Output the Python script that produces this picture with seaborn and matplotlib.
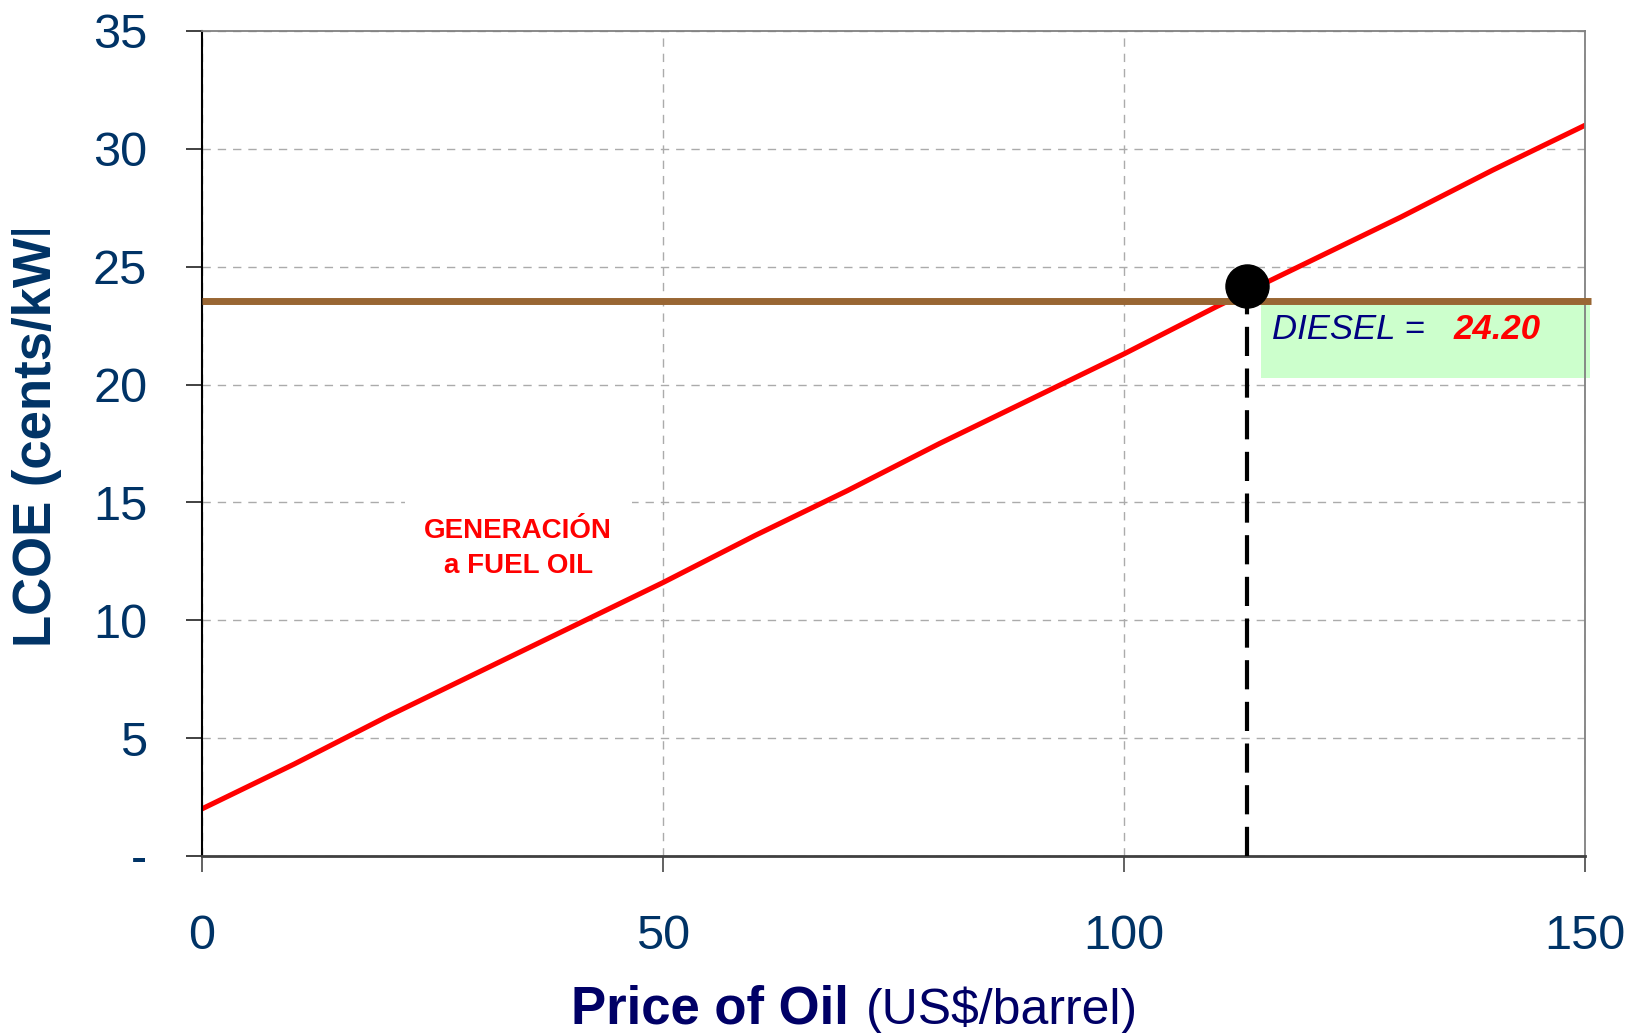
import matplotlib
matplotlib.use("Agg")
import matplotlib.pyplot as plt
import pandas as pd
import seaborn as sns
from matplotlib.patches import Rectangle
from matplotlib.transforms import Bbox, TransformedBbox

# Levelized cost of fuel-oil generation versus crude price
oil_price = [0, 10, 20, 30, 40, 50, 60, 70, 80, 90, 100, 110, 120, 130, 140, 150]
lcoe_fuel_oil = [2.0, 3.9, 5.9, 7.8, 9.7, 11.6, 13.6, 15.5, 17.5, 19.4,
                 21.3, 23.3, 25.2, 27.1, 29.1, 31.0]

# Diesel reference level and the break-even point
diesel_lcoe_line = 23.55
breakeven_price = 113.3
breakeven_lcoe = 24.20

x_ticks = [0, 50, 100, 150]
x_tick_labels = ["0", "50", "100", "150"]
y_ticks = [0, 5, 10, 15, 20, 25, 30, 35]
y_tick_labels = ["-", "5", "10", "15", "20", "25", "30", "35"]

W, H = 1638, 1033
sns.set_theme(style="white")
plt.rcParams["font.family"] = ["Liberation Sans", "DejaVu Sans"]

fig = plt.figure(figsize=(W / 100, H / 100), dpi=100)
ax = fig.add_axes([202 / W, 177 / H, 1383 / W, 825 / H])

df = pd.DataFrame({"price": oil_price, "lcoe": lcoe_fuel_oil})
sns.lineplot(data=df, x="price", y="lcoe", color="#FF0000", linewidth=3.7,
             ax=ax, zorder=2)

ax.set_xlim(0, 150)
ax.set_ylim(0, 35)
ax.set_xticks(x_ticks)
ax.set_xticklabels(x_tick_labels)
ax.set_yticks(y_ticks)
ax.set_yticklabels(y_tick_labels)
ax.set_xlabel("")
ax.set_ylabel("")

ax.grid(True, linestyle=(0, (6, 5)), color="#ABABAB", linewidth=1.0)
ax.set_axisbelow(True)

tick_color = "#003366"
ax.tick_params(axis="y", left=True, direction="out", length=11.5, width=1.3,
               color="#333333", pad=28, labelsize=35, labelcolor=tick_color)
ax.tick_params(axis="x", bottom=True, direction="out", length=11.5, width=1.3,
               color="#555555", pad=30, labelsize=35, labelcolor=tick_color)

ax.spines["left"].set_color("black")
ax.spines["left"].set_linewidth(1.5)
ax.spines["bottom"].set_color("#404040")
ax.spines["bottom"].set_linewidth(2.0)
for side in ("top", "right"):
    ax.spines[side].set_color("#808080")
    ax.spines[side].set_linewidth(1.3)
    ax.spines[side].set_visible(True)

# Diesel cost level
ax.axhline(diesel_lcoe_line, xmin=0, xmax=1.004, color="#996633", linewidth=5,
           solid_capstyle="butt", clip_on=False, zorder=3)

# Label panel for the diesel value
ax.add_patch(Rectangle((breakeven_price + 1.6, 20.28), 150.5 - breakeven_price - 1.6,
                       diesel_lcoe_line - 20.28, facecolor="#CCFFCC",
                       edgecolor="none", clip_on=False, zorder=1.8))
ax.text(116.0, 22.35, "DIESEL =", fontsize=25, style="italic", color="#000080",
        ha="left", va="center", zorder=4)
ax.text(135.7, 22.35, f"{breakeven_lcoe:.2f}", fontsize=25, style="italic",
        weight="bold", color="#FF0000", ha="left", va="center", zorder=4)

# Break-even marker with drop line to the price axis
ax.plot([breakeven_price, breakeven_price], [0, breakeven_lcoe], color="black",
        linewidth=3, linestyle=(0, (7, 3)), zorder=4)
ax.plot([breakeven_price], [breakeven_lcoe], marker="o", markersize=31,
        color="black", linestyle="none", clip_on=False, zorder=5)

ax.text(34.3, 13.05, "GENERACIÓN\na FUEL OIL", fontsize=20, weight="bold",
        color="#FF0000", ha="center", va="center", linespacing=1.45,
        bbox=dict(boxstyle="square,pad=0.7", facecolor="white", edgecolor="none"),
        zorder=1.5)

# Axis titles
ylab = fig.text(37 / W, (H - 647) / H, "LCOE (cents/kWh)", rotation=90,
                ha="center", va="bottom", fontsize=38, weight="bold",
                color="#003366")
ylab.set_clip_box(TransformedBbox(Bbox([[0, 0], [1, (H - 230) / H]]),
                                  fig.transFigure))
ylab.set_clip_on(True)

fig.text(849 / W, 9 / H, "Price of Oil", ha="right", va="baseline",
         fontsize=38, weight="bold", color="#000066")
fig.text(866 / W, 9 / H, "(US$/barrel)", ha="left", va="baseline",
         fontsize=36, color="#000066")

fig.savefig("out.png", dpi=100)
